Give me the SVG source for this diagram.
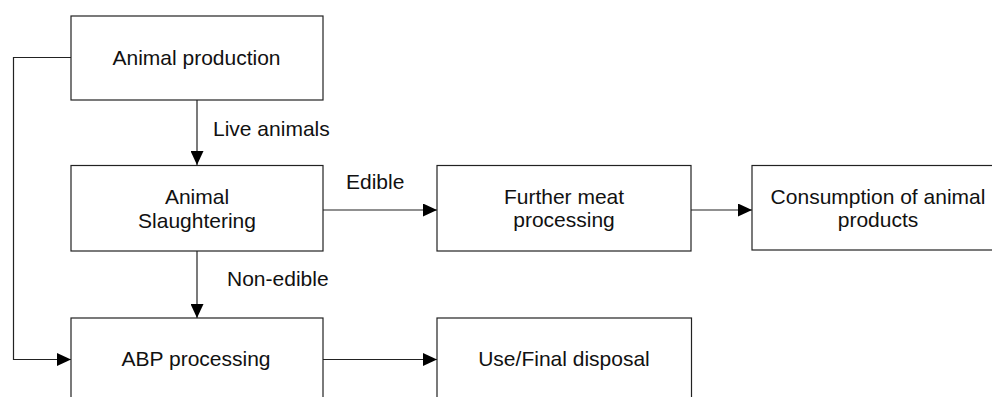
<svg xmlns="http://www.w3.org/2000/svg" width="992" height="397" viewBox="0 0 992 397">
  <style>
    .box { fill: #ffffff; stroke: #222222; stroke-width: 1.2; }
    .lbl { font-family: "Liberation Sans", Arial, sans-serif; font-size: 21px; fill: #111111; }
    .mid { text-anchor: middle; }
    .conn { fill: none; stroke: #222222; stroke-width: 1.2; }
  </style>
  <defs>
    <marker id="arrow" viewBox="0 0 14 13" refX="14" refY="6.5" markerWidth="14" markerHeight="13" markerUnits="userSpaceOnUse" orient="auto">
      <path d="M0,0 L14,6.5 L0,13 Z" fill="#000000"/>
    </marker>
  </defs>

  <rect width="992" height="397" fill="#ffffff"/>

  <g id="connectors">
    <path class="conn" d="M197,100 V165" marker-end="url(#arrow)"/>
    <path class="conn" d="M197,251 V318" marker-end="url(#arrow)"/>
    <path class="conn" d="M71,57.5 H13.5 V359.5 H71" marker-end="url(#arrow)"/>
    <path class="conn" d="M323,210 H437" marker-end="url(#arrow)"/>
    <path class="conn" d="M691,210 H752" marker-end="url(#arrow)"/>
    <path class="conn" d="M323,359.5 H437" marker-end="url(#arrow)"/>
    <text class="lbl" x="213" y="136">Live animals</text>
    <text class="lbl" x="346" y="189">Edible</text>
    <text class="lbl" x="227" y="285.5">Non-edible</text>
  </g>

  <g id="animal-production">
    <rect class="box" x="71" y="16" width="252" height="84"/>
    <text class="lbl mid" x="196.5" y="64.5">Animal production</text>
  </g>

  <g id="animal-slaughtering">
    <rect class="box" x="71" y="165.5" width="252" height="85.5"/>
    <text class="lbl mid" x="197" y="204">Animal</text>
    <text class="lbl mid" x="197" y="228">Slaughtering</text>
  </g>

  <g id="further-meat-processing">
    <rect class="box" x="437" y="165.5" width="254" height="85.5"/>
    <text class="lbl mid" x="564" y="203.5">Further meat</text>
    <text class="lbl mid" x="564" y="227">processing</text>
  </g>

  <g id="consumption">
    <rect class="box" x="752" y="165.5" width="252" height="84.5"/>
    <text class="lbl mid" x="878" y="203.5">Consumption of animal</text>
    <text class="lbl mid" x="878" y="227">products</text>
  </g>

  <g id="abp-processing">
    <rect class="box" x="71" y="318" width="252" height="90"/>
    <text class="lbl mid" x="196" y="366">ABP processing</text>
  </g>

  <g id="use-final-disposal">
    <rect class="box" x="437" y="318" width="254.5" height="90"/>
    <text class="lbl mid" x="564" y="366">Use/Final disposal</text>
  </g>
</svg>
